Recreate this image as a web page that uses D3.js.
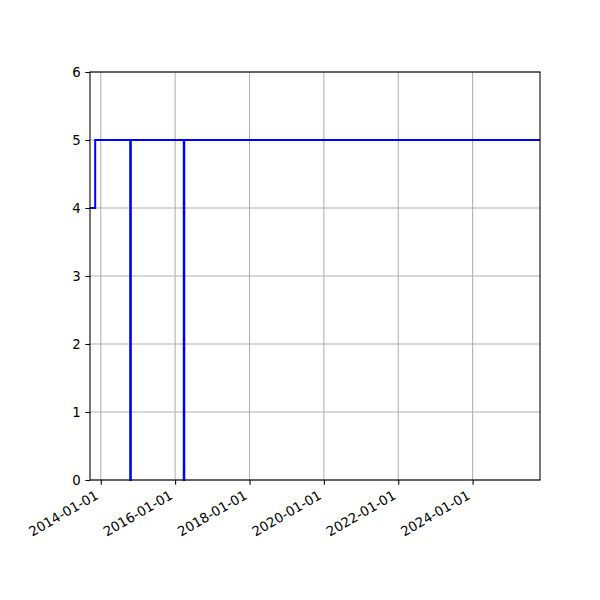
<!DOCTYPE html>
<html>
<head>
<meta charset="utf-8">
<script src="https://cdn.jsdelivr.net/npm/d3@7"></script>
<style>
  body { margin: 0; background: #fff; }
  text { font-family: "DejaVu Sans", sans-serif; }
</style>
</head>
<body>
<div class="chart-area"></div>
<script>
// step series
var dates = ["2013-09-17", "2013-11-07", "2014-10-17", "2014-10-23", "2016-03-26", "2016-03-31", "2025-10-24"];
var values = [4, 5, 0, 5, 0, 5, 5];
var xTicks = ["2014-01-01", "2016-01-01", "2018-01-01", "2020-01-01", "2022-01-01", "2024-01-01"];
var yTicks = [0, 1, 2, 3, 4, 5, 6];
var xDomain = ["2013-09-17", "2025-10-24"];

var parse = d3.utcParse("%Y-%m-%d");
var fmt = d3.utcFormat("%Y-%m-%d");

var margin = { left: 90, right: 60, top: 72, bottom: 120 };
var width = 600 - margin.left - margin.right,
    height = 600 - margin.top - margin.bottom;

var svg = d3.select(".chart-area").append("svg")
    .attr("width", 600)
    .attr("height", 600);

var g = svg.append("g")
    .attr("transform", "translate(" + margin.left + "," + margin.top + ")");

var x = d3.scaleUtc().domain(xDomain.map(parse)).range([0, width]);
var y = d3.scaleLinear().domain([0, 6]).range([height, 0]);

// grid
g.append("g").selectAll("line").data(xTicks).enter().append("line")
    .attr("x1", function(d) { return x(parse(d)); })
    .attr("x2", function(d) { return x(parse(d)); })
    .attr("y1", 0).attr("y2", height)
    .attr("stroke", "#b0b0b0").attr("stroke-width", 1.07);
g.append("g").selectAll("line").data(yTicks).enter().append("line")
    .attr("x1", 0).attr("x2", width)
    .attr("y1", function(d) { return y(d); })
    .attr("y2", function(d) { return y(d); })
    .attr("stroke", "#b0b0b0").attr("stroke-width", 1.07);

// the step line
var data = dates.map(function(d, i) { return { date: parse(d), value: values[i] }; });
var line = d3.line()
    .curve(d3.curveStepAfter)
    .x(function(d) { return x(d.date); })
    .y(function(d) { return y(d.value); });

g.append("path")
    .datum(data)
    .attr("d", line)
    .attr("fill", "none")
    .attr("stroke", "#0000ff")
    .attr("stroke-width", 2);

// axes
var xAxis = g.append("g")
    .attr("transform", "translate(0," + height + ")")
    .call(d3.axisBottom(x).tickValues(xTicks.map(parse)).tickFormat(fmt).tickSize(4.67).tickPadding(4));
xAxis.select(".domain").remove();
xAxis.selectAll(".tick line").attr("stroke", "#000").attr("stroke-width", 1.07);
xAxis.selectAll("text")
    .attr("font-size", "13.3px")
    .attr("fill", "#000")
    .attr("text-anchor", "end")
    .attr("dy", null)
    .attr("y", 0)
    .attr("transform", "translate(-2,18) rotate(-30)");

var yAxis = g.append("g")
    .call(d3.axisLeft(y).tickValues(yTicks).tickFormat(d3.format("d")).tickSize(4.67).tickPadding(4.67));
yAxis.select(".domain").remove();
yAxis.selectAll(".tick line").attr("stroke", "#000").attr("stroke-width", 1.07);
yAxis.selectAll("text").attr("font-size", "13.3px").attr("fill", "#000");

// frame
g.append("rect")
    .attr("x", 0).attr("y", 0)
    .attr("width", width).attr("height", height)
    .attr("fill", "none")
    .attr("stroke", "#000")
    .attr("stroke-width", 1.07);
</script>
</body>
</html>
